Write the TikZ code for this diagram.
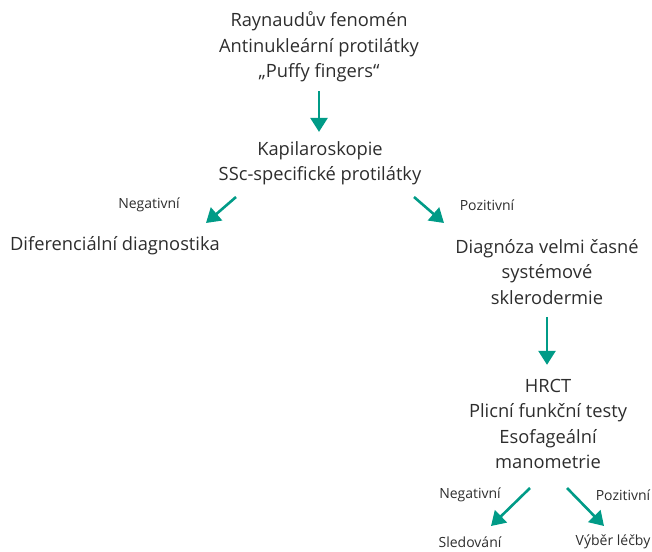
\documentclass[tikz,border=0pt]{standalone}
\usepackage{fontspec}
\setmainfont{Open Sans}
\usetikzlibrary{positioning, arrows.meta}
\definecolor{arrowTeal}{RGB}{0,155,135}
\definecolor{textGray}{RGB}{45,45,45}
\tikzset{
    stepnode/.style={
        align=center,
        text=textGray,
        font=\fontsize{18.3}{25.5}\selectfont,
        inner sep=0pt
    },
    smalltext/.style={
        text=textGray,
        font=\fontsize{14}{16}\selectfont,
        inner sep=0pt
    },
    flow/.style={
        -{Triangle[length=14pt, width=17pt]},
        line width=2.6pt,
        arrowTeal
    }
}

\begin{document}
\begin{tikzpicture}[x=1pt, y=-1pt]
        \useasboundingbox (0,0) rectangle (652,551);
        % screening
        \node[stepnode] (raynaud) at (319,47) {Raynaudův fenomén\\Antinukleární protilátky\\„Puffy fingers“};
        \node[stepnode] (kapil) at (320,163) {Kapilaroskopie\\SSc-specifické protilátky};
        \node[stepnode] (difdiag) at (115,246) {Diferenciální diagnostika};
        \node[stepnode] (diagnoza) at (547,272) {Diagnóza velmi časné\\systémové\\sklerodermie};
        \node[stepnode] (vysetreni) at (548,424) {HRCT\\Plicní funkční testy\\Esofageální\\manometrie};
        \node[smalltext] (sledovani) at (470,542) {Sledování};
        \node[smalltext] (lecba) at (613,542) {Výběr léčby};

        % branch labels
        \node[smalltext] (neg1) at (149,205) {Negativní};
        \node[smalltext] (poz1) at (487,205) {Pozitivní};
        \node[smalltext] (neg2) at (470,495) {Negativní};
        \node[smalltext] (poz2) at (623,495) {Pozitivní};

        % arrow ends
        \coordinate (negA) at (236,197);
        \coordinate (negB) at (206,223);
        \coordinate (pozA) at (414,197);
        \coordinate (pozB) at (444,223);
        \coordinate (neg2A) at (530,488);
        \coordinate (neg2B) at (491,526);
        \coordinate (poz2A) at (567,488);
        \coordinate (poz2B) at (604,526);

        \draw[flow, shorten <=9pt, shorten >=9pt] (raynaud) -- (raynaud |- kapil.north);
        \draw[flow] (negA) -- (negB);
        \draw[flow] (pozA) -- (pozB);
        \draw[flow, shorten <=12pt, shorten >=14pt] (diagnoza.south) -- (diagnoza.south |- vysetreni.north);
        \draw[flow] (neg2A) -- (neg2B);
        \draw[flow] (poz2A) -- (poz2B);
\end{tikzpicture}
\end{document}
